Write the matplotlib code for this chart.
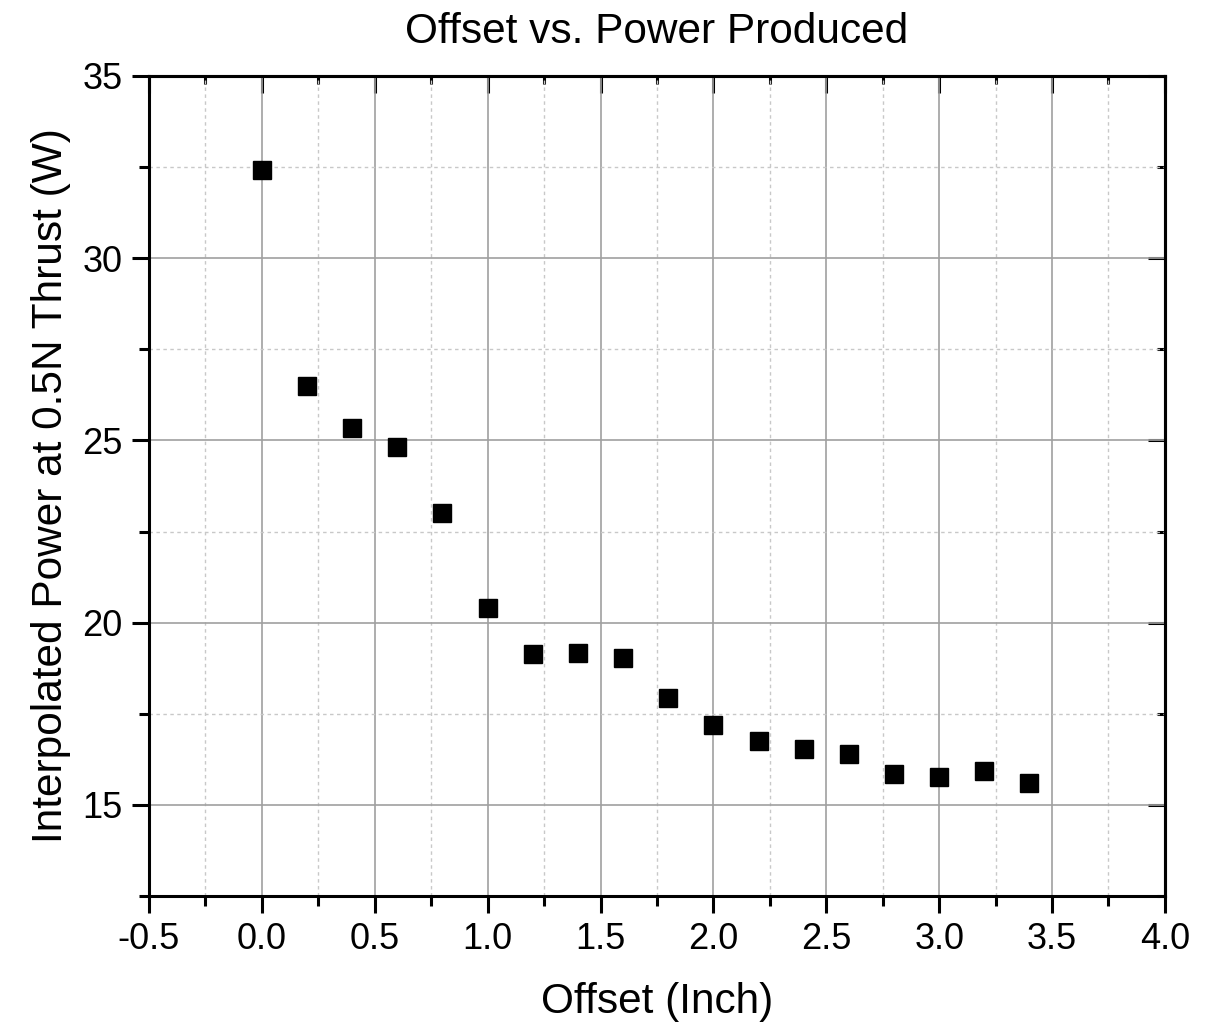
import matplotlib
matplotlib.use("Agg")
import matplotlib.pyplot as plt
from matplotlib.ticker import MultipleLocator

plt.rcParams["font.family"] = ["Liberation Sans", "DejaVu Sans"]

offset = [0.0, 0.2, 0.4, 0.6, 0.8, 1.0, 1.2, 1.4, 1.6, 1.8,
          2.0, 2.2, 2.4, 2.6, 2.8, 3.0, 3.2, 3.4]
power = [32.42, 26.50, 25.33, 24.81, 23.00, 20.40, 19.14, 19.16, 19.03, 17.93,
         17.19, 16.75, 16.53, 16.40, 15.85, 15.77, 15.93, 15.60]

fig = plt.figure(figsize=(12.16, 10.27), dpi=100)
ax = fig.add_axes([0.1225, 0.1276, 0.8355, 0.7984])

ax.plot(offset, power, linestyle="none", marker="s", markersize=13,
        color="black", zorder=3)

ax.set_xlim(-0.5, 4.0)
ax.set_ylim(12.5, 35)
ax.xaxis.set_major_locator(MultipleLocator(0.5))
ax.xaxis.set_minor_locator(MultipleLocator(0.25))
ax.yaxis.set_major_locator(MultipleLocator(5))
ax.yaxis.set_minor_locator(MultipleLocator(2.5))
ax.xaxis.set_major_formatter(plt.FormatStrFormatter("%.1f"))

ax.grid(which="major", color="#a0a0a0", linewidth=1.2)
ax.grid(which="minor", color="#c8c8c8", linewidth=1.0, linestyle=(0, (2.5, 2.5)))
ax.set_axisbelow(True)

for s in ax.spines.values():
    s.set_linewidth(2.2)

ax.tick_params(which="both", direction="out", width=2.2, labelsize=26,
               top=False, right=False)
ax.tick_params(which="major", length=12, pad=7)
ax.tick_params(which="minor", length=7)

# inward ticks on top and right
ax2 = ax.secondary_xaxis("top")
ax2.xaxis.set_major_locator(MultipleLocator(0.5))
ax2.xaxis.set_minor_locator(MultipleLocator(0.25))
ax2.tick_params(which="both", direction="in", width=2.2, labeltop=False)
ax2.tick_params(which="major", length=12)
ax2.tick_params(which="minor", length=6)
ay2 = ax.secondary_yaxis("right")
ay2.yaxis.set_major_locator(MultipleLocator(5))
ay2.yaxis.set_minor_locator(MultipleLocator(2.5))
ay2.tick_params(which="both", direction="in", width=2.2, labelright=False)
ay2.tick_params(which="major", length=12)
ay2.tick_params(which="minor", length=6)
for a in (ax2, ay2):
    for s in a.spines.values():
        s.set_linewidth(2.2)

ax.set_xlabel("Offset (Inch)", fontsize=30.5, labelpad=18)
ax.set_ylabel("Interpolated Power at 0.5N Thrust (W)", fontsize=30.5, labelpad=8)
ax.set_title("Offset vs. Power Produced", fontsize=30.5, pad=24)

fig.savefig("out.png", dpi=100)
